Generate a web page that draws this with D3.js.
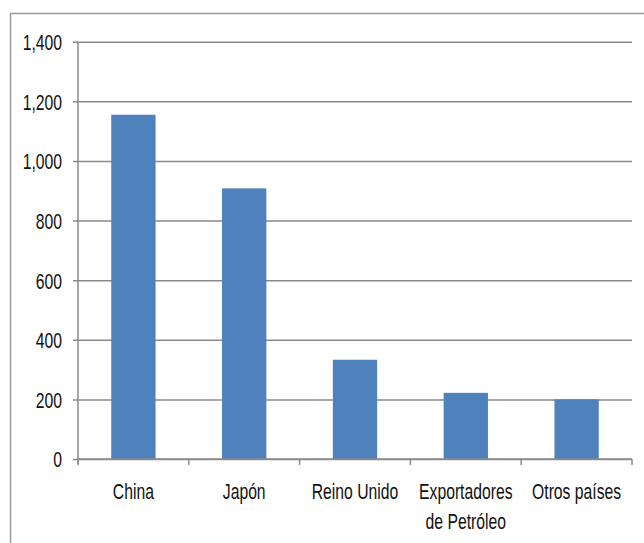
<!DOCTYPE html>
<html>
<head>
<meta charset="utf-8">
<script src="https://cdn.jsdelivr.net/npm/d3@7"></script>
<style>
  html, body { margin: 0; padding: 0; background: #fff; }
  svg { display: block; }
  text { font-family: "Liberation Sans", Arial, sans-serif; fill: #111; font-size: 22px; }
</style>
</head>
<body>
<svg id="chart" width="644" height="543"></svg>
<script>
// Categories (multi-line labels split on "\n") and their values
const categories = ["China", "Japón", "Reino Unido", "Exportadores\nde Petróleo", "Otros países"];
const values = [1155, 908, 333, 222, 200];
const yTicks = [0, 200, 400, 600, 800, 1000, 1200, 1400];

const W = 644, H = 543;
const plot = { left: 78, right: 632, top: 41.7, bottom: 459 };
const narrow = 0.715; // horizontal squeeze to get a condensed face

const svg = d3.select("#chart");

// Outer chart frame
svg.append("rect")
  .attr("x", 10.5).attr("y", 13.5)
  .attr("width", W + 20).attr("height", H + 20)
  .attr("fill", "none").attr("stroke", "#9a9a9a").attr("stroke-width", 1.5);

const x = d3.scaleBand()
  .domain(categories)
  .range([plot.left, plot.right])
  .paddingInner(0.6)
  .paddingOuter(0.3);

const y = d3.scaleLinear()
  .domain([0, 1400])
  .range([plot.bottom, plot.top]);

const fmt = d3.format(",");

// Horizontal gridlines + left tick marks
const yAxis = d3.axisLeft(y)
  .tickValues(yTicks)
  .tickSize(0)
  .tickPadding(0)
  .tickFormat(fmt);

const gy = svg.append("g").attr("transform", `translate(${plot.left},0)`);
gy.call(yAxis);
gy.select(".domain").remove();
gy.selectAll(".tick text").remove();

gy.selectAll(".tick").append("line")
  .attr("x1", -5).attr("x2", plot.right - plot.left)
  .attr("stroke", "#8a8a8a").attr("stroke-width", 1.5);

gy.selectAll(".tick").append("text")
  .attr("transform", `translate(-16,0) scale(${narrow},1)`)
  .attr("dy", "0.36em")
  .attr("text-anchor", "end")
  .text(d => fmt(d));

// Vertical axis line
svg.append("line")
  .attr("x1", plot.left).attr("x2", plot.left)
  .attr("y1", plot.top).attr("y2", plot.bottom + 5)
  .attr("stroke", "#8a8a8a").attr("stroke-width", 1.5);

// Bars
svg.append("g").selectAll("rect")
  .data(categories.map((c, i) => ({ c, v: values[i] })))
  .join("rect")
  .attr("x", d => x(d.c))
  .attr("y", d => y(d.v))
  .attr("width", x.bandwidth())
  .attr("height", d => y(0) - y(d.v))
  .attr("fill", "#4F81BD");

// Category boundary ticks below the baseline
const step = x.step();
const boundaries = d3.range(categories.length + 1).map(i => plot.left + i * step);
svg.append("g").selectAll("line")
  .data(boundaries)
  .join("line")
  .attr("x1", d => d).attr("x2", d => d)
  .attr("y1", plot.bottom).attr("y2", plot.bottom + 6)
  .attr("stroke", "#8a8a8a").attr("stroke-width", 1.5);

// Baseline
svg.append("line")
  .attr("x1", plot.left).attr("x2", plot.right)
  .attr("y1", plot.bottom).attr("y2", plot.bottom)
  .attr("stroke", "#8a8a8a").attr("stroke-width", 1.5);

// Category labels
const labels = svg.append("g").selectAll("text")
  .data(categories)
  .join("text")
  .attr("text-anchor", "middle")
  .attr("transform", d => `translate(${x(d) + x.bandwidth() / 2},499) scale(${narrow},1)`);

labels.each(function(d) {
  const t = d3.select(this);
  d.split("\n").forEach((ln, i) => {
    t.append("tspan")
      .attr("x", 0)
      .attr("dy", i === 0 ? 0 : 30)
      .text(ln);
  });
});
</script>
</body>
</html>
